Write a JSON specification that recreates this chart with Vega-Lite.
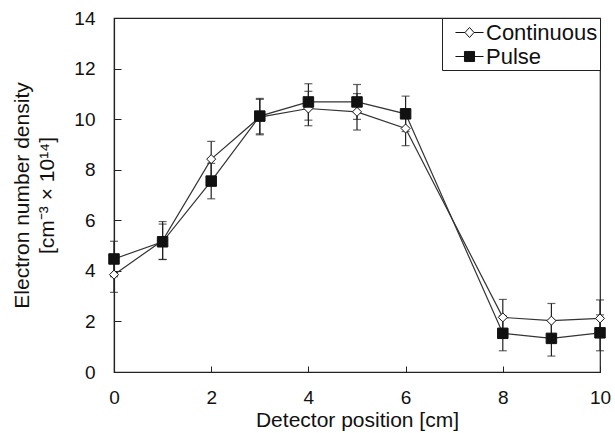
{
  "$schema": "https://vega.github.io/schema/vega-lite/v6.json",
  "width": 486,
  "height": 354,
  "autosize": "none",
  "padding": {"left": 114, "top": 18, "right": 15, "bottom": 61},
  "background": "white",
  "config": {
    "font": "Liberation Sans",
    "view": {"stroke": "#222", "strokeWidth": 1.2},
    "axis": {
      "grid": false,
      "domainColor": "#222",
      "domainWidth": 1.2,
      "tickColor": "#222",
      "tickWidth": 1,
      "labelColor": "#111",
      "titleColor": "#111",
      "labelFontSize": 19,
      "titleFontSize": 21,
      "titleFontWeight": "normal",
      "labelFont": "Liberation Sans",
      "titleFont": "Liberation Sans"
    },
    "legend": {
      "orient": "top-right",
      "offset": 0,
      "padding": 2,
      "strokeColor": "#222",
      "fillColor": "white",
      "symbolSize": 576,
      "symbolOpacity": 1,
      "symbolStrokeWidth": 1,
      "symbolStrokeColor": "#111",
      "symbolOffset": 13,
      "labelFontSize": 22,
      "labelFont": "Liberation Sans",
      "labelColor": "#111",
      "labelOffset": 4,
      "rowPadding": -2
    }
  },
  "data": {
    "values": [
      {"series": "Continuous", "pos": 0, "value": 3.85, "err": 0.7},
      {"series": "Continuous", "pos": 1, "value": 5.2, "err": 0.75},
      {"series": "Continuous", "pos": 2, "value": 8.42, "err": 0.7},
      {"series": "Continuous", "pos": 3, "value": 10.08, "err": 0.7},
      {"series": "Continuous", "pos": 4, "value": 10.42, "err": 0.68},
      {"series": "Continuous", "pos": 5, "value": 10.29, "err": 0.72},
      {"series": "Continuous", "pos": 6, "value": 9.63, "err": 0.68},
      {"series": "Continuous", "pos": 8, "value": 2.16, "err": 0.71},
      {"series": "Continuous", "pos": 9, "value": 2.03, "err": 0.68},
      {"series": "Continuous", "pos": 10, "value": 2.12, "err": 0.73},
      {"series": "Pulse", "pos": 0, "value": 4.47, "err": 0.7},
      {"series": "Pulse", "pos": 1, "value": 5.15, "err": 0.7},
      {"series": "Pulse", "pos": 2, "value": 7.55, "err": 0.7},
      {"series": "Pulse", "pos": 3, "value": 10.12, "err": 0.7},
      {"series": "Pulse", "pos": 4, "value": 10.68, "err": 0.72},
      {"series": "Pulse", "pos": 5, "value": 10.68, "err": 0.69},
      {"series": "Pulse", "pos": 6, "value": 10.21, "err": 0.7},
      {"series": "Pulse", "pos": 8, "value": 1.53, "err": 0.69},
      {"series": "Pulse", "pos": 9, "value": 1.33, "err": 0.7},
      {"series": "Pulse", "pos": 10, "value": 1.55, "err": 0.71}
    ]
  },
  "layer": [
    {
      "mark": {"type": "errorbar", "ticks": {"size": 8}, "color": "#222", "thickness": 1.2},
      "encoding": {
        "x": {
          "field": "pos",
          "type": "quantitative",
          "scale": {"domain": [0, 10], "nice": false, "zero": false},
          "axis": {
            "values": [0, 2, 4, 6, 8, 10],
            "tickSize": -6,
            "labelPadding": 22,
            "labelFlush": false,
            "title": "Detector position [cm]",
            "titlePadding": 2
          }
        },
        "y": {
          "field": "value",
          "type": "quantitative",
          "scale": {"domain": [0, 14], "nice": false},
          "axis": {
            "values": [0, 2, 4, 6, 8, 10, 12, 14],
            "tickSize": -7,
            "labelPadding": 26,
            "title": ["Electron number density", "[cm⁻³ × 10¹⁴]"],
            "titleLineHeight": 25,
            "titlePadding": 16
          }
        },
        "yError": {"field": "err"}
      }
    },
    {
      "mark": {"type": "line", "color": "#333", "strokeWidth": 1.2},
      "encoding": {
        "x": {"field": "pos", "type": "quantitative"},
        "y": {"field": "value", "type": "quantitative"},
        "detail": {"field": "series"}
      }
    },
    {
      "mark": {"type": "point", "filled": true, "opacity": 1, "stroke": "#111", "strokeWidth": 1},
      "encoding": {
        "x": {"field": "pos", "type": "quantitative"},
        "y": {"field": "value", "type": "quantitative"},
        "shape": {
          "condition": {"test": "datum.series === 'Pulse'", "value": "square"},
          "value": "diamond"
        },
        "fill": {
          "condition": {"test": "datum.series === 'Pulse'", "value": "#111"},
          "value": "white"
        },
        "size": {
          "condition": {"test": "datum.series === 'Pulse'", "value": 110},
          "value": 81
        }
      }
    },
    {
      "mark": {"type": "point", "filled": true, "opacity": 0, "stroke": "#111", "strokeWidth": 1},
      "encoding": {
        "x": {"field": "pos", "type": "quantitative"},
        "y": {"field": "value", "type": "quantitative"},
        "shape": {
          "field": "series",
          "type": "nominal",
          "title": null,
          "scale": {
            "domain": ["Continuous", "Pulse"],
            "range": [
              "M-1.17,0H-0.375M0.375,0H1.17M-0.375,0L0,-0.42L0.375,0L0,0.42Z",
              "M-1.17,0H1.17M-0.42,-0.42H0.42V0.42H-0.42Z"
            ]
          }
        },
        "fill": {
          "field": "series",
          "type": "nominal",
          "title": null,
          "scale": {"domain": ["Continuous", "Pulse"], "range": ["white", "#111"]}
        },
        "stroke": {
          "field": "series",
          "type": "nominal",
          "title": null,
          "scale": {"domain": ["Continuous", "Pulse"], "range": ["#111", "#111"]}
        }
      }
    }
  ]
}
